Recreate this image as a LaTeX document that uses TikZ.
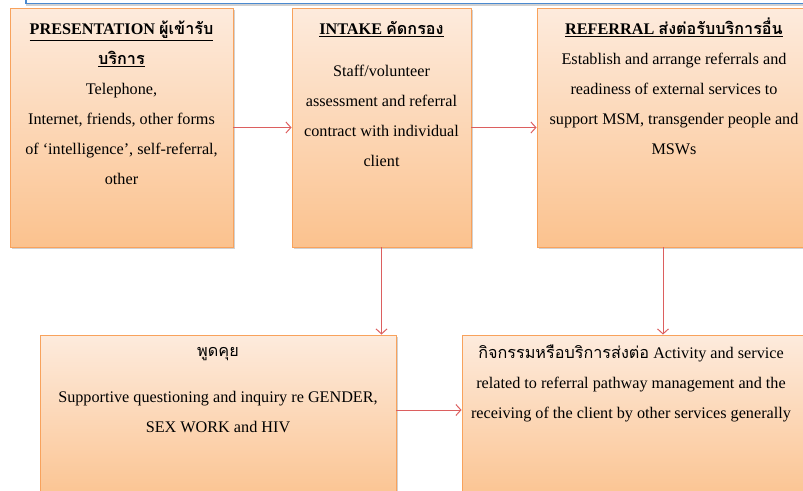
\documentclass[tikz,border=0pt]{standalone}
\usepackage{fontspec}
\setmainfont{Liberation Serif}
\newfontfamily\thai[Script=Thai]{Loma}
\usetikzlibrary{arrows.meta,shadows}
\definecolor{boxedge}{HTML}{F8A25C}
\definecolor{boxtop}{HTML}{FDEBDD}
\definecolor{boxbot}{HTML}{FBC28E}
\definecolor{flowred}{HTML}{DC5F5F}
\definecolor{bandblue}{HTML}{4A8AD0}
\newcommand{\firstline}{\rule{0pt}{18pt}}

\begin{document}
\begin{tikzpicture}[x=1pt, y=1pt,
  box/.style={draw=boxedge, line width=0.9pt, top color=boxtop, bottom color=boxbot, inner sep=0pt,
              drop shadow={shadow xshift=2pt, shadow yshift=-2pt, opacity=0.3, fill=black!60}},
  txt/.style={anchor=north, align=center, inner sep=0pt, font=\fontsize{16.2}{30}\selectfont},
  flow/.style={draw=flowred, line width=1pt, -{Straight Barb[length=5pt,width=11pt]}}]
\useasboundingbox (0,0) rectangle (803,-490);
\clip (0,0) rectangle (803,-490);
% cut-off banner at the top
\draw[draw=bandblue, line width=1.2pt, fill=white,
      drop shadow={shadow xshift=0pt, shadow yshift=-2pt, opacity=0.3, fill=black!60}]
  (26,12) rectangle (815,-3.5);

\node[box, minimum width=223pt, minimum height=239pt] (pres) at (121.5,-127.5) {};
\node[box, minimum width=179pt, minimum height=239pt] (intake) at (381.5,-127.5) {};
\node[box, minimum width=274pt, minimum height=239pt] (refer) at (674,-127.5) {};
\node[box, minimum width=356pt, minimum height=170pt] (talk) at (218,-420) {};
\node[box, minimum width=350pt, minimum height=170pt] (activity) at (637,-420) {};

\node[txt] (pres-t) at ([yshift=-9pt]pres.north)
  {\firstline\underline{\textbf{PRESENTATION {\thai ผู้เข้ารับ}}}\\
   \underline{\textbf{\thai บริการ}}\\
   Telephone,\\
   Internet, friends, other forms\\
   of ‘intelligence’, self-referral,\\
   other};
\node[txt] (intake-t) at ([yshift=-9pt]intake.north)
  {\firstline\underline{\textbf{INTAKE {\thai คัดกรอง}}}\\[12pt]
   Staff/volunteer\\
   assessment and referral\\
   contract with individual\\
   client};
\node[txt] (refer-t) at ([yshift=-9pt]refer.north)
  {\firstline\underline{\textbf{REFERRAL {\thai ส่งต่อรับบริการอื่น}}}\\
   Establish and arrange referrals and\\
   readiness of external services to\\
   support MSM, transgender people and\\
   MSWs};
\node[txt] (talk-t) at ([yshift=-4pt]talk.north)
  {\firstline{\thai พูดคุย}\\[16pt]
   Supportive questioning and inquiry re GENDER,\\
   SEX WORK and HIV};
\node[txt] (activity-t) at ([xshift=-6pt,yshift=-6pt]activity.north)
  {\firstline{\thai กิจกรรมหรือบริการส่งต่อ} Activity and service\\
   related to referral pathway management and the\\
   receiving of the client by other services generally};

\draw[flow] (pres) -- (intake);
\draw[flow] (intake) -- (refer);
\draw[flow] (intake.south) -- (intake.south |- talk.north);
\draw[flow] ([xshift=-11pt]refer.south) -- ([xshift=-11pt]refer.south |- activity.north);
\draw[flow] ([yshift=10pt]talk.east) -- ([yshift=10pt]talk.east -| activity.west);
\end{tikzpicture}
\end{document}
